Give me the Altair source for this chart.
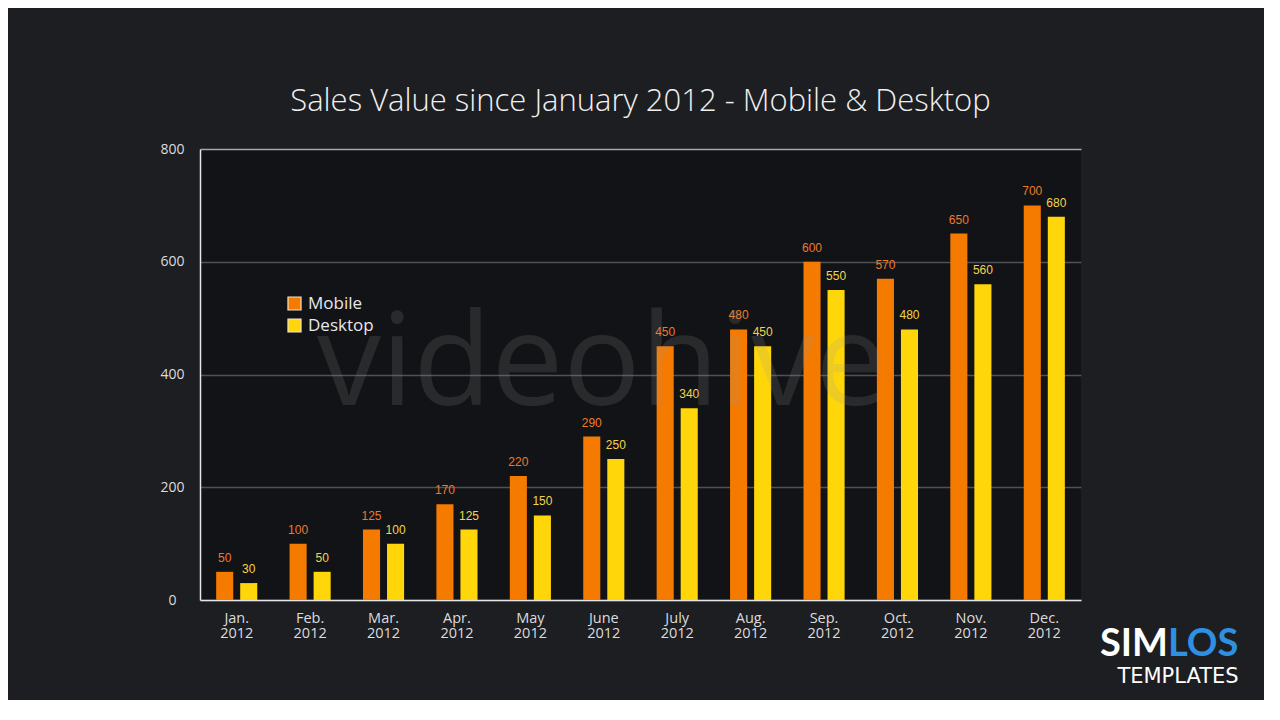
import altair as alt
import pandas as pd

# chart values
months = ["Jan. 2012", "Feb. 2012", "Mar. 2012", "Apr. 2012", "May 2012", "June 2012",
          "July 2012", "Aug. 2012", "Sep. 2012", "Oct. 2012", "Nov. 2012", "Dec. 2012"]
series = ["Mobile", "Desktop"]
mobile = [50, 100, 125, 170, 220, 290, 450, 480, 600, 570, 650, 700]
desktop = [30, 50, 100, 125, 150, 250, 340, 450, 550, 480, 560, 680]
y_ticks = [0, 200, 400, 600, 800]

colors = ["#f57a00", "#ffd60a"]
label_colors = ["#ec7a2a", "#f2d54a"]

rows = []
for i, m in enumerate(months):
    rows.append({"month": m, "series": "Mobile", "value": mobile[i]})
    rows.append({"month": m, "series": "Desktop", "value": desktop[i]})
df = pd.DataFrame(rows)

W, H = 881, 451

x = alt.X(
    "month:N",
    sort=months,
    scale=alt.Scale(paddingInner=0.44, paddingOuter=0.22),
    axis=alt.Axis(
        title=None,
        labelAngle=0,
        labelExpr="split(datum.label, ' ')",
        labelColor="#dcdcdc",
        labelFont="Open Sans",
        labelFontSize=14.5,
        labelLineHeight=15,
        labelPadding=11,
        ticks=False,
        domainColor="#e6e6e6",
        domainWidth=1.5,
    ),
)
xoff = alt.XOffset("series:N", sort=series, scale=alt.Scale(paddingInner=0.29, paddingOuter=0))
y = alt.Y(
    "value:Q",
    scale=alt.Scale(domain=[0, 800], nice=False),
    axis=alt.Axis(
        title=None,
        values=y_ticks,
        labelColor="#dcdcdc",
        labelFont="Open Sans",
        labelFontSize=14,
        labelAlign="center",
        labelPadding=28,
        ticks=False,
        domainColor="#e6e6e6",
        domainWidth=1.5,
        gridColor={"condition": {"test": "datum.value === 800", "value": "#a8a8ac"},
                   "value": "#505155"},
        gridWidth=1.5,
    ),
)

base = alt.Chart(df)

bars = base.mark_bar().encode(
    x=x,
    xOffset=xoff,
    y=y,
    color=alt.Color(
        "series:N",
        sort=series,
        scale=alt.Scale(domain=series, range=colors),
        legend=alt.Legend(
            title=None,
            orient="none",
            legendX=86,
            legendY=146,
            symbolType="square",
            symbolSize=170,
            symbolStrokeColor="#f3e3c8",
            symbolStrokeWidth=1.2,
            symbolOpacity=1,
            labelColor="#e8e8e8",
            labelFont="Open Sans",
            labelFontSize=17,
            rowPadding=3,
            labelOffset=5,
        ),
    ),
)

labels = base.mark_text(baseline="bottom", dy=-7, font="Arial", fontSize=12).encode(
    x=alt.X("month:N", sort=months),
    xOffset=alt.XOffset("series:N", sort=series),
    y="value:Q",
    text="value:Q",
    color=alt.Color("series:N", sort=series,
                    scale=alt.Scale(domain=series, range=label_colors), legend=None),
)

watermark = alt.Chart(pd.DataFrame({"t": ["videohive"]})).mark_text(
    font="Open Sans", fontSize=128, color="#9a9a9a", opacity=0.17,
    align="center", baseline="alphabetic",
).encode(text="t:N", x=alt.value(402), y=alt.value(256))

logo = alt.Chart(pd.DataFrame({"a": ["SIM"], "b": ["LOS"], "c": ["TEMPLATES"]}))
logo_sim = logo.mark_text(font="Lato", fontSize=38, fontWeight="bold", color="#ffffff",
                          align="right", baseline="alphabetic").encode(
    text="a:N", x=alt.value(968), y=alt.value(507))
logo_los = logo.mark_text(font="Lato", fontSize=38, fontWeight="bold", color="#2f8fe0",
                          align="left", baseline="alphabetic").encode(
    text="b:N", x=alt.value(968), y=alt.value(507))
logo_tpl = logo.mark_text(font="DejaVu Sans", fontSize=21, color="#ffffff",
                          align="center", baseline="alphabetic").encode(
    text="c:N", x=alt.value(978), y=alt.value(534))

chart = (
    alt.layer(bars, labels, watermark, logo_sim, logo_los, logo_tpl)
    .resolve_scale(color="independent")
    .properties(
        width=W,
        height=H,
        autosize=alt.AutoSizeParams(type="none"),
        padding={"left": 192, "top": 141, "right": 183, "bottom": 100},
        background="#1d1e22",
        title=alt.TitleParams(
            "Sales Value since January 2012 - Mobile & Desktop",
            font="Open Sans",
            fontSize=31,
            fontWeight=300,
            color="#f0f0f0",
            anchor="middle",
            offset=24,
        ),
    )
    .configure_view(fill="#121316", stroke=None)
)

chart.save("out.html", embed_options={"renderer": "svg", "actions": False})
